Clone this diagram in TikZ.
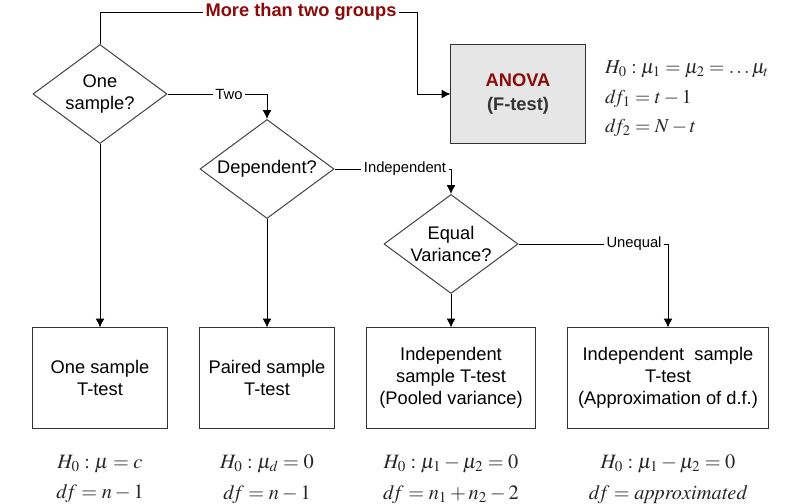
\documentclass[tikz,border=0pt]{standalone}
\usepackage{mathptmx}
\usepackage[no-math]{fontspec}
\setmainfont{Liberation Sans}
\usepackage{xcolor}
\usetikzlibrary{arrows.meta,positioning,shapes.geometric,calc}
\definecolor{grpred}{HTML}{8B0A0A}
\definecolor{anovagray}{HTML}{E6E6E6}

\begin{document}
\begin{tikzpicture}[x=0.025cm, y=-0.025cm, line width=0.7pt,
    every node/.style={font=\fontsize{13}{15.5}\selectfont},
    decision/.style={draw=black!75, diamond, aspect=1.34, inner sep=0pt, minimum width=3.35cm, minimum height=2.475cm, align=center},
    testbox/.style={draw=black!80, minimum height=2.5cm, align=center, inner sep=0pt},
    lbl/.style={font=\fontsize{10.5}{12}\selectfont, inner sep=1.5pt},
    formula/.style={font=\fontsize{14.5}{22}\selectfont, align=center, text=black!85},
    arr/.style={-{Latex[length=2.2mm,width=2.2mm]}}]
    \useasboundingbox (0,0) rectangle (788,504);

    % decisions
    \node (one) [decision] at (100,94) {One\\sample?};
    \node (dep) [decision] at (267,169) {Dependent?};
    \node (eqvar) [decision] at (451,244) {Equal\\Variance?};

    % anova
    \node (anova) [draw=black!80, fill=anovagray, minimum width=3.35cm, minimum height=2.475cm, align=center, font=\fontsize{13}{17}\selectfont\bfseries] at (518,94) {\textcolor{grpred}{ANOVA}\\\textcolor{black!80}{(F-test)}};
    \node (anovaf) [formula, font=\fontsize{14}{21}\selectfont, align=left, anchor=west] at (600,99) {$H_0 : \mu_1 = \mu_2 = \ldots\mu_t$\\$d\!f_1 = t-1$\\$d\!f_2 = N-t$};

    % tests
    \node (box1) [testbox, minimum width=3.35cm] at (100,378) {One sample\\T-test};
    \node (box2) [testbox, minimum width=3.35cm] at (267,378) {Paired sample\\T-test};
    \node (box3) [testbox, minimum width=4.2cm] at (451,378) {Independent\\sample T-test\\(Pooled variance)};
    \node (box4) [testbox, minimum width=5cm] at (668,378) {Independent\ \ sample\\T-test\\(Approximation of d.f.)};

    \node (f1) [formula] at (100,479) {$H_0 : \mu = c$\\$d\!f = n-1$};
    \node (f2) [formula] at (267,479) {$H_0 : \mu_d = 0$\\$d\!f = n-1$};
    \node (f3) [formula] at (451,479) {$H_0 : \mu_1 - \mu_2 = 0$\\$d\!f = n_1 + n_2 - 2$};
    \node (f4) [formula] at (668,479) {$H_0 : \mu_1 - \mu_2 = 0$\\$d\!f = \mathit{approximated}$};

    % branch labels
    \node (more) [lbl, font=\fontsize{13}{15}\selectfont\bfseries, text=grpred] at (301,12) {More than two groups};
    \node (two) [lbl] at (229,94) {Two};
    \node (indep) [lbl] at (405,169) {Independent};
    \node (uneq) [lbl] at (634,244) {Unequal};
    \coordinate (bend) at (417,94);

    \draw (one.north) |- (more.west);
    \draw[arr] (more.east) -| (bend) -- (anova.west);
    \draw (one.east) -- (two.west);
    \draw[arr] (two.east) -| (dep.north);
    \draw (dep.east) -- (indep.west);
    \draw[arr] (indep.east) -| (eqvar.north);
    \draw (eqvar.east) -- (uneq.west);
    \draw[arr] (uneq.east) -| (box4.north);
    \draw[arr] (one.south) -- (box1.north);
    \draw[arr] (dep.south) -- (box2.north);
    \draw[arr] (eqvar.south) -- (box3.north);
\end{tikzpicture}
\end{document}
